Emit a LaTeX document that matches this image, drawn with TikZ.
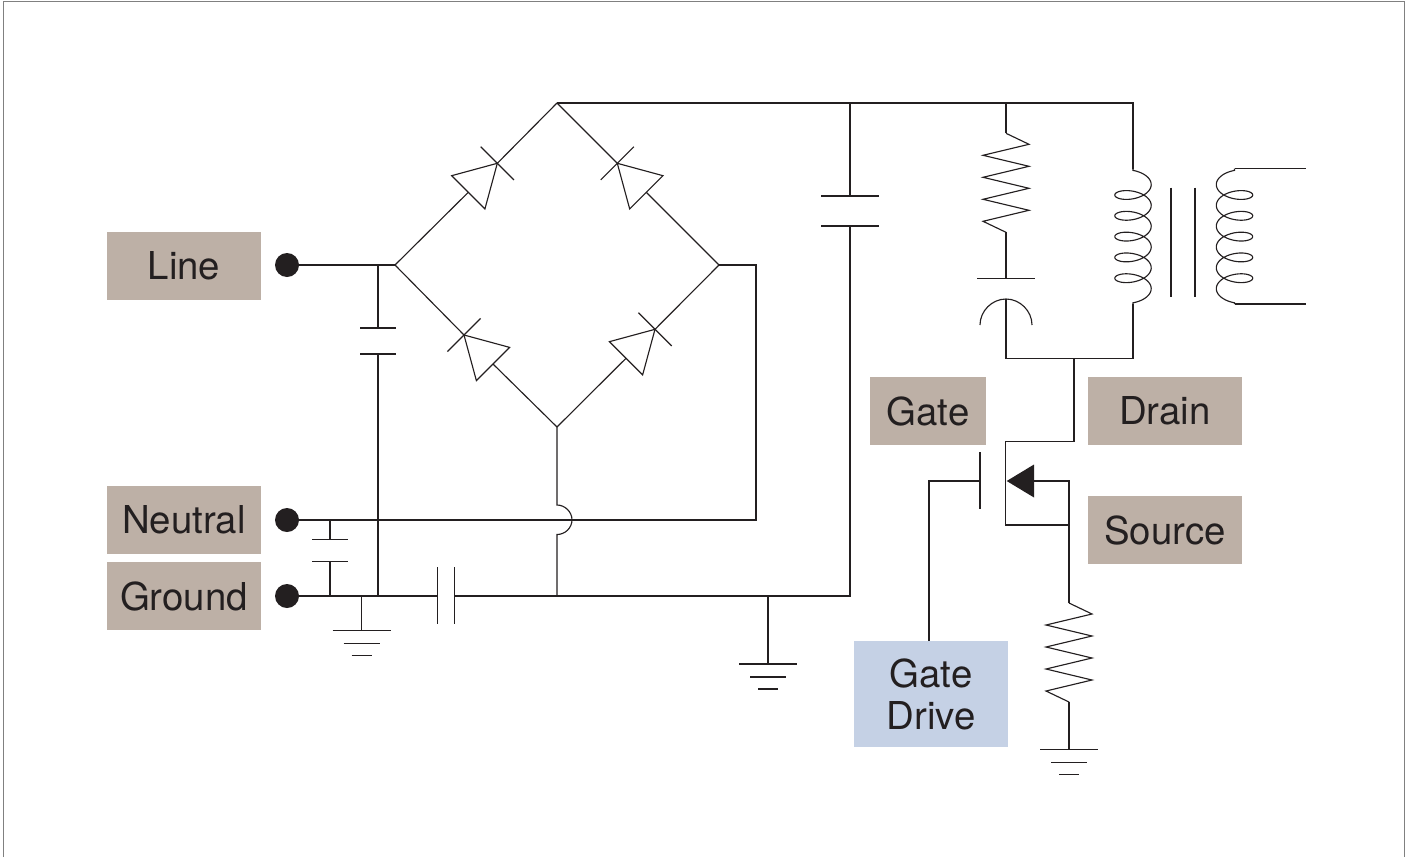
\documentclass[tikz,border=0pt]{standalone}
\usepackage{fontspec}
\setmainfont{TeX Gyre Heros}
\usetikzlibrary{shapes,arrows,positioning}
\definecolor{tan}{HTML}{BDB0A6}
\definecolor{paleblue}{HTML}{C5D1E5}
\definecolor{ink}{HTML}{231F20}

\tikzset{
  tag/.style={rectangle, fill=tan, text=ink, font=\fontsize{28.8}{31.5}\selectfont, minimum width=115.5pt, minimum height=51pt, inner sep=0pt, align=center},
  terminal/.style={circle, fill=ink, minimum size=18pt, inner sep=0pt},
  line/.style={draw=ink, line width=0.85pt},
  pics/diode/.style={code={
    \draw [line] (0,-23.5) -- (0,23.5);
    \draw [line] (0,0) -- (-41,-23.5) -- (-41,23.5) -- cycle;
  }},
  pics/earth/.style={code={
    \draw [line] (-29,0) -- (29,0);
    \draw [line] (-18,13) -- (18,13);
    \draw [line] (-10,25) -- (10,25);
  }},
  pics/zigzag/.style={code={
    \draw [line] (0,0) -- (23,11) -- (-23,22) -- (23,33) -- (-23,44) -- (23,55) -- (-23,66) -- (23,77) -- (-23,88) -- (0,99);
  }},
  pics/coil/.style={code={
    \draw [line] (0,0) -- plot[smooth, variable=\t, domain=-90:1890, samples=280] ({18.2*cos(\t)}, {16.1+\t/360*20.8+9*sin(\t)}) -- (0,135.5);
  }}
}

\begin{document}
\begin{tikzpicture}[x=0.75pt, y=-0.75pt]
    \useasboundingbox (0,0) rectangle (1409,857);
    \draw [gray, line width=0.7pt] (3,857) -- (3,1) -- (1404,1) -- (1404,857);

    % labels
    \node [tag] (line) at (184,266) {Line};
    \node [tag] (neutral) at (184,520) {Neutral};
    \node [tag, below=5.6pt of neutral] (ground) {Ground};
    \node [tag, minimum width=87pt] (gate) at (928,411) {Gate};
    \node [tag] (drain) at (1165,411) {Drain};
    \node [tag] (source) at (1165,530) {Source};
    \node [tag, fill=paleblue, minimum height=79.5pt] (gatedrive) at (931,694) {Gate\\Drive};

    \node [terminal] (linedot) at (287,265) {};
    \node [terminal] (neutraldot) at (287,520) {};
    \node [terminal] (grounddot) at (287,596) {};

    % bridge corners
    \coordinate (left) at (395,265);
    \coordinate (top) at (557,103);
    \coordinate (right) at (719,265);
    \coordinate (bottom) at (557,427);

    % diodes
    \coordinate (d1a) at (497.3,163.3);
    \coordinate (d1b) at (468.3,192.3);
    \coordinate (d2a) at (617.3,163.3);
    \coordinate (d2b) at (646.3,192.3);
    \coordinate (d3a) at (464,335);
    \coordinate (d3b) at (493,364);
    \coordinate (d4a) at (655,329.3);
    \coordinate (d4b) at (626,358.3);
    \pic [rotate=45] at (d1a) {diode};
    \pic [rotate=135] at (d2a) {diode};
    \pic [rotate=135] at (d3a) {diode};
    \pic [rotate=45] at (d4a) {diode};
    \path [line] (left) -- (d1b);
    \path [line] (d1a) -- (top);
    \path [line] (right) -- (d2b);
    \path [line] (d2a) -- (top);
    \path [line] (left) -- (d3a);
    \path [line] (d3b) -- (bottom);
    \path [line] (bottom) -- (d4b);
    \path [line] (d4a) -- (right);

    % mains side
    \coordinate (c1j) at (378,265);
    \coordinate (c1t) at (378,328);
    \coordinate (c1b) at (378,354);
    \coordinate (c1g) at (378,596);
    \coordinate (rcorner) at (756,265);
    \coordinate (rdown) at (756,520);
    \coordinate (hopt) at (557,505);
    \coordinate (hopb) at (557,534.5);
    \coordinate (bottomg) at (557,596);
    \path [line] (linedot) -- (left);
    \path [line] (c1j) -- (c1t);
    \draw [line] ([xshift=-13.5pt]c1t) -- ([xshift=13.5pt]c1t);
    \draw [line] ([xshift=-13.5pt]c1b) -- ([xshift=13.5pt]c1b);
    \path [line] (c1b) -- (c1g);
    \path [line] (right) -- (rcorner) -- (rdown) -- (neutraldot);
    \path [line] (bottom) -- (hopt) .. controls (565,505) and (572,512) .. (572,519.7) .. controls (572,528) and (565,534.5) .. (hopb) -- (bottomg);

    % neutral to ground capacitor
    \coordinate (c2j) at (330,520);
    \coordinate (c2t) at (330,539.5);
    \coordinate (c2b) at (330,561.5);
    \coordinate (c2g) at (330,596);
    \path [line] (c2j) -- (c2t);
    \draw [line] ([xshift=-13.5pt]c2t) -- ([xshift=13.5pt]c2t);
    \draw [line] ([xshift=-13.5pt]c2b) -- ([xshift=13.5pt]c2b);
    \path [line] (c2b) -- (c2g);

    % ground rail
    \coordinate (c3l) at (437.7,596);
    \coordinate (c3r) at (454.7,596);
    \coordinate (c4j) at (850,596);
    \coordinate (c4b) at (850,226);
    \coordinate (c4t) at (850,196);
    \coordinate (c4top) at (850,103);
    \path [line] (grounddot) -- (c3l);
    \draw [line] ([yshift=21.5pt]c3l) -- ([yshift=-21pt]c3l);
    \draw [line] ([yshift=21.5pt]c3r) -- ([yshift=-21pt]c3r);
    \path [line] (c3r) -- (c4j) -- (c4b);
    \draw [line] ([xshift=-21.5pt]c4b) -- ([xshift=21.5pt]c4b);
    \draw [line] ([xshift=-21.5pt]c4t) -- ([xshift=21.5pt]c4t);
    \path [line] (c4t) -- (c4top);

    % grounds
    \coordinate (e1j) at (361.7,596);
    \coordinate (e1) at (361.7,630.5);
    \coordinate (e2j) at (768,596);
    \coordinate (e2) at (768,664);
    \path [line] (e1j) -- (e1);
    \path [line] (e2j) -- (e2);
    \pic at (e1) {earth};
    \pic at (e2) {earth};

    % snubber and transformer
    \coordinate (topr) at (1133,103);
    \coordinate (r1j) at (1006,103);
    \coordinate (r1t) at (1006,133.3);
    \coordinate (r1b) at (1006,232.3);
    \coordinate (c5t) at (1006,278.5);
    \coordinate (c5b) at (1006,299);
    \coordinate (c5j) at (1006,358.3);
    \coordinate (p1) at (1133,168.5);
    \coordinate (p2) at (1133,304);
    \coordinate (pj) at (1133,358.3);
    \coordinate (s1) at (1234.5,168.5);
    \coordinate (s2) at (1234.5,304);
    \coordinate (s1e) at (1305.5,168.5);
    \coordinate (s2e) at (1305.5,304);
    \path [line] (top) -- (topr) -- (p1);
    \path [line] (r1j) -- (r1t);
    \pic at (r1t) {zigzag};
    \path [line] (r1b) -- (c5t);
    \draw [line] ([xshift=-21.5pt]c5t) -- ([xshift=21.5pt]c5t);
    \draw [line] (980,325) .. controls (980,311) and (992,299) .. (c5b) .. controls (1020,299) and (1032,311) .. (1032,325);
    \path [line] (c5b) -- (c5j) -- (pj) -- (p2);
    \pic at (p1) {coil};
    \pic [xscale=-1] at (s1) {coil};
    \path [line] (s1) -- (s1e);
    \path [line] (s2) -- (s2e);
    \draw [line] (1171,187.5) -- (1171,296.5);
    \draw [line] (1195,187.5) -- (1195,296.5);

    % switch
    \coordinate (dj) at (1074,358.3);
    \coordinate (d1) at (1074,441.3);
    \coordinate (d2) at (1005.7,441.3);
    \coordinate (d3) at (1005.7,525);
    \coordinate (sj) at (1069,525);
    \coordinate (arrowbase) at (1034,481);
    \coordinate (s3) at (1069,481);
    \coordinate (r2t) at (1069,603);
    \coordinate (r2b) at (1069,702);
    \coordinate (e3) at (1069,749.5);
    \coordinate (gbar) at (980,481);
    \coordinate (g1) at (929,481);
    \path [line] (dj) -- (d1) -- (d2) -- (d3) -- (sj);
    \fill [ink] (1006.7,481) -- (1034,464.5) -- (1034,497.5) -- cycle;
    \path [line] (arrowbase) -- (s3) -- (r2t);
    \pic at (r2t) {zigzag};
    \path [line] (r2b) -- (e3);
    \pic at (e3) {earth};
    \draw [line] ([yshift=21.5pt]gbar) -- ([yshift=-21pt]gbar);
    \path [line] (gbar) -- (g1) -- (g1 |- gatedrive.north);
\end{tikzpicture}
\end{document}
